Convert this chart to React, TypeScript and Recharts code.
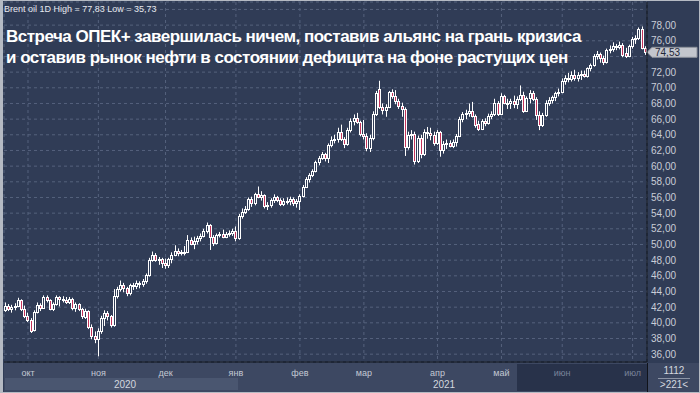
import React from 'react';
import { ComposedChart, Bar, XAxis, YAxis, CartesianGrid, ReferenceLine } from 'recharts';

// each row: [day, open, high, low, close]
type Row = number[];

const sep20: Row[] = [
  [22, 41.7, 42.6, 41.4, 42.1], [23, 42.1, 42.4, 41.5, 41.8], [24, 41.8, 42.3, 41.3, 42.0],
  [25, 42.0, 42.5, 41.6, 42.2], [28, 42.2, 43.2, 42.0, 42.9], [29, 42.9, 43.0, 41.5, 41.8],
  [30, 41.8, 42.2, 40.6, 40.9],
];
const oct20: Row[] = [
  [1, 40.9, 41.3, 40.1, 40.4], [2, 40.4, 40.6, 38.7, 39.0], [5, 39.1, 41.6, 38.9, 41.4],
  [6, 41.4, 42.6, 41.2, 42.3], [7, 42.3, 42.5, 41.5, 41.9], [8, 41.9, 43.5, 41.8, 43.3],
  [9, 43.3, 43.5, 42.6, 42.9], [12, 42.9, 43.0, 41.6, 41.8], [13, 41.8, 42.6, 41.5, 42.4],
  [14, 42.4, 43.5, 42.2, 43.3], [15, 43.3, 43.4, 42.1, 43.1], [16, 43.1, 43.4, 42.6, 42.9],
  [19, 42.9, 43.3, 42.4, 42.6], [20, 42.6, 43.3, 42.4, 43.1], [21, 43.1, 43.2, 41.6, 41.9],
  [22, 41.9, 42.6, 41.4, 42.4], [23, 42.4, 42.5, 41.5, 41.8], [26, 41.8, 41.9, 40.5, 40.9],
  [27, 40.8, 41.8, 40.5, 41.5], [28, 41.5, 41.6, 39.2, 39.5], [29, 39.5, 39.8, 37.9, 38.3],
  [30, 38.3, 38.9, 37.4, 37.9],
];
const nov20: Row[] = [
  [2, 37.9, 39.3, 35.73, 38.9], [3, 38.9, 40.9, 38.6, 40.6], [4, 40.6, 41.6, 39.6, 41.2],
  [5, 41.2, 41.5, 40.3, 40.9], [6, 40.9, 41.0, 39.4, 39.7], [9, 39.7, 44.3, 39.5, 43.4],
  [10, 43.4, 44.6, 43.1, 44.3], [11, 44.3, 45.4, 44.0, 44.8], [12, 44.8, 45.1, 43.9, 44.4],
  [13, 44.4, 44.6, 43.4, 43.8], [16, 43.8, 45.0, 43.5, 44.8], [17, 44.8, 45.1, 44.2, 44.7],
  [18, 44.7, 45.4, 44.3, 45.1], [19, 45.1, 45.3, 44.4, 44.9], [20, 44.9, 45.6, 44.6, 45.3],
  [23, 45.3, 46.3, 45.0, 46.1], [24, 46.1, 48.3, 45.9, 48.0], [25, 48.0, 49.1, 47.8, 48.6],
  [26, 48.6, 48.9, 47.8, 48.0], [27, 48.0, 48.4, 47.4, 48.1], [30, 48.1, 48.3, 47.0, 47.6],
];
const dec20: Row[] = [
  [1, 47.6, 48.2, 46.9, 47.4], [2, 47.4, 48.3, 47.0, 48.1], [3, 48.1, 49.0, 47.6, 48.7],
  [4, 48.7, 49.9, 48.5, 49.2], [7, 49.2, 49.5, 48.5, 48.9], [8, 48.9, 49.3, 48.6, 49.0],
  [9, 49.0, 49.8, 48.6, 49.1], [10, 49.1, 51.2, 48.9, 50.6], [11, 50.6, 50.9, 49.9, 50.1],
  [14, 50.1, 51.0, 49.4, 50.4], [15, 50.4, 51.1, 50.0, 50.8], [16, 50.8, 51.4, 50.4, 51.1],
  [17, 51.1, 52.0, 50.9, 51.7], [18, 51.7, 52.8, 51.4, 52.5], [21, 52.5, 52.6, 49.3, 51.0],
  [22, 51.0, 51.2, 49.8, 50.2], [23, 50.2, 51.4, 50.0, 51.2], [24, 51.2, 51.6, 50.9, 51.3],
  [28, 51.3, 51.9, 50.8, 51.0], [29, 51.0, 51.6, 50.8, 51.3], [30, 51.3, 51.8, 51.0, 51.5],
  [31, 51.5, 52.0, 51.1, 51.7],
];
const jan21: Row[] = [
  [4, 51.7, 52.3, 50.4, 50.8], [5, 50.8, 53.9, 50.6, 53.6], [6, 53.6, 54.6, 53.3, 54.1],
  [7, 54.1, 54.9, 53.9, 54.5], [8, 54.5, 56.0, 54.3, 55.8], [11, 55.8, 56.1, 54.8, 55.3],
  [12, 55.3, 56.6, 55.0, 56.4], [13, 56.4, 57.4, 55.9, 56.1], [14, 56.1, 56.8, 55.6, 56.3],
  [15, 56.3, 56.4, 54.6, 54.9], [18, 54.9, 55.4, 54.4, 55.0], [19, 55.0, 55.9, 54.7, 55.7],
  [20, 55.7, 56.4, 55.3, 56.0], [21, 56.0, 56.2, 55.4, 55.7], [22, 55.7, 55.9, 54.9, 55.2],
  [25, 55.2, 55.9, 54.9, 55.6], [26, 55.6, 56.0, 55.1, 55.5], [27, 55.5, 56.1, 55.0, 55.8],
  [28, 55.8, 56.0, 54.9, 55.3], [29, 55.3, 55.8, 54.7, 55.5],
];
const feb21: Row[] = [
  [1, 55.5, 56.4, 54.4, 56.2], [2, 56.2, 57.6, 56.0, 57.4], [3, 57.4, 58.6, 57.2, 58.4],
  [4, 58.4, 59.1, 57.9, 58.9], [5, 58.9, 59.6, 58.6, 59.4], [8, 59.4, 60.7, 59.2, 60.5],
  [9, 60.5, 61.3, 60.1, 61.1], [10, 61.1, 61.8, 60.8, 61.5], [11, 61.5, 61.7, 60.6, 61.1],
  [12, 61.1, 62.9, 60.4, 62.7], [15, 62.7, 63.8, 62.4, 63.3], [16, 63.3, 64.0, 62.9, 63.4],
  [17, 63.4, 64.9, 63.0, 64.3], [18, 64.3, 65.3, 63.2, 63.5], [19, 63.5, 63.7, 62.3, 62.8],
  [22, 62.8, 64.9, 62.6, 64.6], [23, 64.6, 66.1, 64.3, 65.8], [24, 65.8, 66.6, 65.2, 66.2],
  [25, 66.2, 66.8, 65.4, 65.6], [26, 65.6, 65.8, 63.8, 64.1],
];
const mar21: Row[] = [
  [1, 64.1, 65.9, 63.4, 63.9], [2, 63.9, 64.2, 61.9, 62.3], [3, 62.3, 64.0, 61.8, 63.6],
  [4, 63.6, 67.0, 63.3, 66.7], [5, 66.7, 69.6, 66.4, 69.3], [8, 69.9, 70.9, 67.3, 67.6],
  [9, 67.6, 68.0, 66.6, 67.2], [10, 67.2, 67.9, 66.3, 67.6], [11, 67.6, 69.6, 67.4, 69.4],
  [12, 69.4, 69.8, 68.6, 69.0], [15, 69.0, 69.7, 67.9, 68.3], [16, 68.3, 68.6, 67.3, 67.7],
  [17, 67.7, 68.1, 66.3, 67.3], [18, 67.3, 67.5, 61.3, 62.4], [19, 62.4, 64.4, 62.1, 64.0],
  [22, 64.0, 64.6, 63.4, 64.1], [23, 64.1, 64.4, 60.2, 60.6], [24, 60.6, 63.9, 60.4, 63.6],
  [25, 63.6, 64.0, 61.0, 61.5], [26, 61.5, 64.7, 61.3, 64.4], [29, 64.4, 65.0, 63.5, 64.2],
  [30, 64.2, 64.9, 63.3, 64.0], [31, 64.0, 64.4, 62.6, 63.0],
];
const apr21: Row[] = [
  [1, 63.0, 64.6, 62.7, 64.3], [6, 64.3, 64.5, 61.2, 62.0], [7, 62.0, 63.2, 61.6, 62.8],
  [8, 62.8, 63.4, 62.2, 63.0], [9, 63.0, 63.3, 62.4, 62.6], [12, 62.6, 63.4, 62.3, 63.1],
  [13, 63.1, 64.1, 62.5, 63.9], [14, 63.9, 66.3, 63.7, 66.0], [15, 66.0, 66.9, 65.6, 66.6],
  [16, 66.6, 67.2, 66.0, 66.8], [19, 66.8, 68.0, 66.3, 67.1], [20, 67.1, 68.2, 66.2, 66.4],
  [21, 66.4, 66.6, 64.9, 65.2], [22, 65.4, 65.8, 64.5, 64.8], [23, 64.8, 66.0, 64.6, 65.8],
  [26, 65.8, 66.1, 65.1, 65.5], [27, 65.5, 66.7, 65.3, 66.4], [28, 66.4, 67.0, 66.0, 66.6],
  [29, 66.6, 68.6, 66.4, 68.1], [30, 68.1, 68.3, 66.4, 66.7],
];
const may21: Row[] = [
  [4, 66.7, 69.3, 66.5, 68.9], [5, 68.9, 69.1, 67.9, 68.1], [6, 68.1, 68.6, 67.3, 68.0],
  [7, 68.0, 68.6, 67.3, 68.3], [10, 68.3, 69.0, 67.4, 67.9], [11, 67.9, 68.9, 67.3, 68.6],
  [12, 68.6, 70.3, 68.3, 69.1], [13, 69.1, 69.5, 66.8, 67.1], [14, 67.1, 68.9, 66.9, 68.7],
  [17, 68.7, 69.7, 68.0, 69.3], [18, 69.3, 69.6, 68.3, 68.6], [19, 68.6, 68.8, 65.9, 66.5],
  [20, 66.5, 67.0, 64.6, 65.3], [21, 65.3, 66.8, 65.0, 66.5], [24, 66.5, 68.4, 66.3, 68.1],
  [25, 68.1, 68.8, 67.7, 68.5], [26, 68.5, 69.0, 68.0, 68.8], [27, 68.8, 69.5, 68.3, 69.3],
  [28, 69.3, 69.9, 68.9, 69.5],
];
const jun21: Row[] = [
  [1, 69.5, 71.2, 69.3, 70.9], [2, 70.9, 71.6, 70.4, 71.3], [3, 71.3, 71.9, 70.7, 71.1],
  [4, 71.1, 72.1, 70.8, 71.6], [7, 71.6, 72.3, 70.9, 71.2], [8, 71.2, 72.0, 70.8, 71.6],
  [9, 71.6, 72.2, 71.0, 71.8], [10, 71.8, 72.2, 71.3, 71.5], [11, 71.5, 72.6, 71.3, 72.5],
  [14, 72.5, 73.1, 72.1, 72.9], [15, 72.9, 74.3, 72.7, 74.1], [16, 74.1, 74.7, 73.6, 74.3],
  [17, 74.3, 74.5, 73.2, 73.8], [18, 73.8, 74.1, 72.9, 73.3], [21, 73.3, 75.0, 73.1, 74.8],
  [22, 74.8, 75.4, 74.4, 75.0], [23, 75.0, 75.8, 74.6, 75.3], [24, 75.3, 75.6, 74.8, 75.2],
  [25, 75.2, 75.9, 74.9, 75.5], [28, 75.5, 75.7, 73.9, 74.2], [29, 74.5, 75.1, 73.8, 74.1],
  [30, 74.1, 75.5, 73.9, 75.3],
];
const jul21: Row[] = [
  [1, 75.3, 76.5, 75.0, 76.2], [2, 76.2, 76.7, 75.6, 76.3], [5, 76.3, 77.7, 76.1, 77.5],
  [6, 77.5, 77.83, 74.9, 75.1], [7, 75.1, 75.3, 74.2, 74.53],
];

const monthBlocks = [
  { year: 2020, month: 9, rows: sep20 },
  { year: 2020, month: 10, rows: oct20 },
  { year: 2020, month: 11, rows: nov20 },
  { year: 2020, month: 12, rows: dec20 },
  { year: 2021, month: 1, rows: jan21 },
  { year: 2021, month: 2, rows: feb21 },
  { year: 2021, month: 3, rows: mar21 },
  { year: 2021, month: 4, rows: apr21 },
  { year: 2021, month: 5, rows: may21 },
  { year: 2021, month: 6, rows: jun21 },
  { year: 2021, month: 7, rows: jul21 },
];

const monthNames = ['окт', 'ноя', 'дек', 'янв', 'фев', 'мар', 'апр', 'май', 'июн', 'июл'];
const priceTicks = [36, 38, 40, 42, 44, 46, 48, 50, 52, 54, 56, 58, 60, 62, 64, 66, 68, 70, 72, 74, 76, 78, 80];
const lastPrice = 74.53;
const headerText = 'Brent oil 1D High = 77,83 Low = 35,73';
const titleLines = [
  'Встреча ОПЕК+ завершилась ничем, поставив альянс на грань кризиса',
  'и оставив рынок нефти в состоянии дефицита на фоне растущих цен',
];

const BG = '#303c56';
const RED = '#c4335a';
const FONT = '"Liberation Sans", Arial, sans-serif';

const pad = (n: number) => String(n).padStart(2, '0');
const data = monthBlocks.flatMap(b =>
  b.rows.map(([d, o, h, l, c]) => ({
    date: `${b.year}-${pad(b.month)}-${pad(d)}`,
    o, h, l, c,
    range: [l, h],
  }))
);
const monthStarts = monthBlocks.slice(1).map(b => `${b.year}-${pad(b.month)}-${pad(b.rows[0][0])}`);

// candle: wick + 3px body, white outline, red fill when falling
const Candle = (props: any) => {
  const { x, y, width, height, payload } = props;
  if (!payload) return null;
  const { o, h, l, c } = payload;
  const top = Math.min(y, y + height);
  const span = Math.abs(height);
  const py = (v: number) => top + ((h - v) / (h - l)) * span;
  const cx = Math.floor(x + width / 2);
  const bTop = Math.round(py(Math.max(o, c)));
  const bBot = Math.round(py(Math.min(o, c)));
  return (
    <g>
      <line x1={cx + 0.5} x2={cx + 0.5} y1={top} y2={top + span} stroke="#ffffff" strokeWidth={1} />
      <rect x={cx - 0.5} y={bTop + 0.5} width={2} height={Math.max(bBot - bTop, 1)}
        fill={c >= o ? BG : RED} stroke="#ffffff" strokeWidth={1} />
    </g>
  );
};

const MonthTick = (props: any) => {
  const { x, payload } = props;
  const i = monthStarts.indexOf(payload.value);
  return (
    <text x={x} y={376} textAnchor="middle" fontSize={9} fontFamily={FONT} fill={i >= 8 ? '#79839a' : '#c3c9d4'}>
      {monthNames[i]}
    </text>
  );
};

// the 80 line has no label, and the 74 label sits under the last-price box
const PriceTick = (props: any) => {
  const { y, payload } = props;
  if (payload.value > 78 || Math.abs(payload.value - lastPrice) < 1) return null;
  return (
    <text x={651} y={y + 3.5} fontSize={10} fontFamily={FONT} fill="#c9cdd6">
      {payload.value.toFixed(2).replace('.', ',')}
    </text>
  );
};

const LastPriceLabel = (props: any) => {
  const vb = props.viewBox || {};
  const x0 = (vb.x || 0) + (vb.width || 0);
  const y0 = vb.y || 0;
  return (
    <g>
      <polygon points={`${x0},${y0} ${x0 + 5},${y0 - 5} ${x0 + 50},${y0 - 5} ${x0 + 50},${y0 + 5} ${x0 + 5},${y0 + 5}`}
        fill="#c3c6cd" stroke="#8d929c" strokeWidth={1} />
      <text x={x0 + 8} y={y0 + 4} fontSize={10} fontFamily={FONT} fill="#1f2637">
        {lastPrice.toFixed(2).replace('.', ',')}
      </text>
    </g>
  );
};

export default function App() {
  return (
    <div style={{ position: 'fixed', left: 0, top: 0, width: 700, height: 393, background: BG, overflow: 'hidden' }}>
      {/* bottom strip */}
      <div style={{ position: 'absolute', left: 4, top: 363, width: 696, height: 30, background: '#3d4862' }} />
      <div style={{ position: 'absolute', left: 5, top: 378, width: 233, height: 12, background: '#4a5670' }} />
      <div style={{ position: 'absolute', left: 517, top: 364, width: 130, height: 27, background: '#28324a' }} />
      <div style={{ position: 'absolute', left: 647, top: 363, width: 1, height: 30, background: '#10131a' }} />

      <ComposedChart width={700} height={393} data={data} margin={{ top: 2, right: 0, bottom: 0, left: 4 }}
        barCategoryGap={0} style={{ position: 'absolute', left: 0, top: 0 }}>
        <CartesianGrid stroke="#55627d" strokeDasharray="3 3" />
        <XAxis dataKey="date" ticks={monthStarts} interval={0} height={31} tickLine={false}
          axisLine={{ stroke: '#0d1017' }} tick={<MonthTick />} />
        <YAxis orientation="right" type="number" domain={[35, 80.95]} allowDataOverflow ticks={priceTicks}
          interval={0} width={53} tickLine={false} axisLine={{ stroke: '#0d1017' }} tick={<PriceTick />} />
        <Bar dataKey="range" shape={(p: any) => <Candle {...p} />} isAnimationActive={false} />
        <ReferenceLine y={lastPrice} stroke="none" label={<LastPriceLabel />} />
      </ComposedChart>

      <div style={{ position: 'absolute', left: 4, top: 4, fontFamily: FONT, fontSize: 9, lineHeight: '10px', color: '#e6e9ef', whiteSpace: 'nowrap' }}>
        {headerText}
      </div>
      <div style={{ position: 'absolute', left: 6, top: 26, fontFamily: FONT, fontSize: 17, fontWeight: 700, letterSpacing: -0.5, lineHeight: '21px', color: '#ffffff', whiteSpace: 'nowrap' }}>
        {titleLines.map(t => <div key={t}>{t}</div>)}
      </div>

      {/* year labels and candle counter */}
      <div style={{ position: 'absolute', left: 95, top: 379, width: 60, textAlign: 'center', fontFamily: FONT, fontSize: 10, color: '#d3d7df' }}>2020</div>
      <div style={{ position: 'absolute', left: 414, top: 379, width: 60, textAlign: 'center', fontFamily: FONT, fontSize: 10, color: '#d3d7df' }}>2021</div>
      <div style={{ position: 'absolute', left: 652, top: 365, width: 44, textAlign: 'center', fontFamily: FONT, fontSize: 10, color: '#d3d7df' }}>1112</div>
      <div style={{ position: 'absolute', left: 658, top: 378, width: 32, height: 1, background: '#8c94a5' }} />
      <div style={{ position: 'absolute', left: 652, top: 379, width: 44, textAlign: 'center', fontFamily: FONT, fontSize: 10, color: '#d3d7df' }}>&gt;221&lt;</div>

      <div style={{ position: 'absolute', left: 0, top: 0, width: 700, height: 393, boxSizing: 'border-box', border: '1px solid #b5bac3', borderLeftWidth: 3, pointerEvents: 'none' }} />
    </div>
  );
}
